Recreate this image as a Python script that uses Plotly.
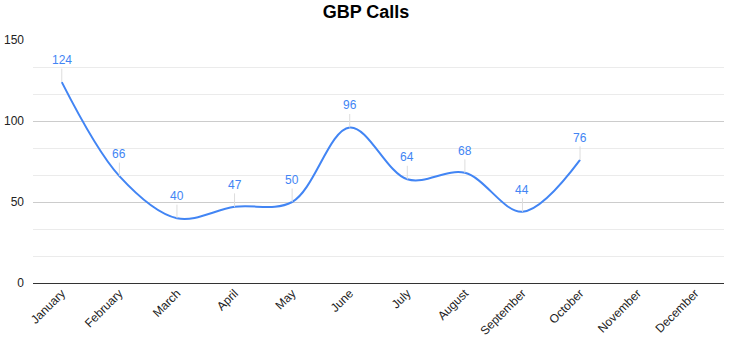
import plotly.graph_objects as go

months = ["January", "February", "March", "April", "May", "June", "July",
          "August", "September", "October", "November", "December"]
calls = [124, 66, 40, 47, 50, 96, 64, 68, 44, 76, None, None]
y_ticks = [0, 50, 100, 150]

BLUE = "#4285F4"
FONT = "Liberation Sans, Arial, sans-serif"

fig = go.Figure()
fig.add_trace(go.Scatter(
    x=months, y=calls, mode="lines",
    line=dict(color=BLUE, width=2, shape="spline", smoothing=1),
    hoverinfo="x+y", showlegend=False,
))

for m, v in zip(months, calls):
    if v is None:
        continue
    fig.add_annotation(
        x=m, y=v, text=str(v), showarrow=True, arrowhead=0,
        arrowcolor="#dddddd", arrowwidth=1, ax=0, ay=-22,
        font=dict(color=BLUE, size=12, family=FONT),
    )

fig.update_layout(
    width=732, height=342,
    margin=dict(l=33, r=8, t=40, b=59),
    paper_bgcolor="white", plot_bgcolor="white",
    title=dict(text="<b>GBP Calls</b>", x=0.5, xanchor="center", y=0.965,
               yanchor="middle", font=dict(size=18, family=FONT, color="#000")),
    font=dict(family=FONT, color="#222"),
    xaxis=dict(
        categoryorder="array", categoryarray=months,
        tickangle=-45, tickfont=dict(size=12, color="#222"),
        showgrid=False, showline=False, ticks="", automargin=False,
        range=[-0.5, 11.5],
    ),
    yaxis=dict(
        range=[0, 150], tickvals=y_ticks, tickfont=dict(size=12, color="#222"),
        showgrid=True, gridcolor="#cccccc", gridwidth=1,
        zeroline=True, zerolinecolor="#333333", zerolinewidth=1,
        minor=dict(dtick=50 / 3, showgrid=True, gridcolor="#ebebeb", gridwidth=1),
        showline=False, ticks="", ticklabelstandoff=8, automargin=False,
    ),
)

fig.write_html("out.html")
